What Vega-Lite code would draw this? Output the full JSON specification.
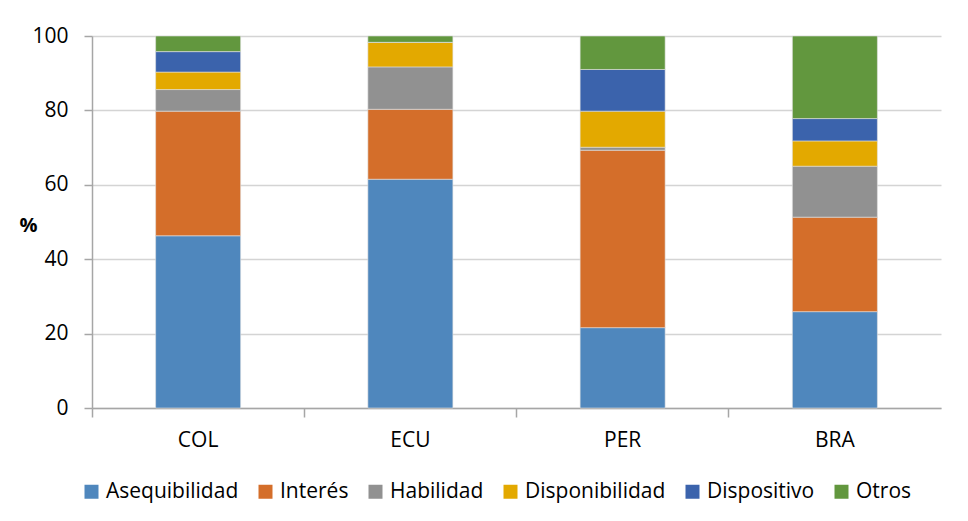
{
  "$schema": "https://vega.github.io/schema/vega-lite/v6.json",
  "width": 849,
  "height": 372,
  "autosize": {"type": "none"},
  "padding": {"left": 92, "top": 36, "right": 27, "bottom": 113},
  "background": "white",
  "config": {"view": {"stroke": null}, "font": "Open Sans"},
  "data": {
    "values": [
      {"pais": "COL", "factor": "Asequibilidad", "k": 1, "valor": 46.3},
      {"pais": "COL", "factor": "Interés", "k": 2, "valor": 33.5},
      {"pais": "COL", "factor": "Habilidad", "k": 3, "valor": 5.8},
      {"pais": "COL", "factor": "Disponibilidad", "k": 4, "valor": 4.7},
      {"pais": "COL", "factor": "Dispositivo", "k": 5, "valor": 5.5},
      {"pais": "COL", "factor": "Otros", "k": 6, "valor": 4.2},
      {"pais": "ECU", "factor": "Asequibilidad", "k": 1, "valor": 61.5},
      {"pais": "ECU", "factor": "Interés", "k": 2, "valor": 18.8},
      {"pais": "ECU", "factor": "Habilidad", "k": 3, "valor": 11.4},
      {"pais": "ECU", "factor": "Disponibilidad", "k": 4, "valor": 6.6},
      {"pais": "ECU", "factor": "Dispositivo", "k": 5, "valor": 0},
      {"pais": "ECU", "factor": "Otros", "k": 6, "valor": 1.7},
      {"pais": "PER", "factor": "Asequibilidad", "k": 1, "valor": 21.6},
      {"pais": "PER", "factor": "Interés", "k": 2, "valor": 47.7},
      {"pais": "PER", "factor": "Habilidad", "k": 3, "valor": 0.8},
      {"pais": "PER", "factor": "Disponibilidad", "k": 4, "valor": 9.7},
      {"pais": "PER", "factor": "Dispositivo", "k": 5, "valor": 11.2},
      {"pais": "PER", "factor": "Otros", "k": 6, "valor": 9.0},
      {"pais": "BRA", "factor": "Asequibilidad", "k": 1, "valor": 25.9},
      {"pais": "BRA", "factor": "Interés", "k": 2, "valor": 25.4},
      {"pais": "BRA", "factor": "Habilidad", "k": 3, "valor": 13.7},
      {"pais": "BRA", "factor": "Disponibilidad", "k": 4, "valor": 6.8},
      {"pais": "BRA", "factor": "Dispositivo", "k": 5, "valor": 6.0},
      {"pais": "BRA", "factor": "Otros", "k": 6, "valor": 22.2}
    ]
  },
  "mark": {"type": "bar", "size": 85, "stroke": "#e0e0e0", "strokeWidth": 0.6},
  "encoding": {
    "x": {
      "field": "pais",
      "type": "nominal",
      "sort": ["COL", "ECU", "PER", "BRA"],
      "scale": {"paddingInner": 0, "paddingOuter": 0},
      "axis": {
        "title": null,
        "labelAngle": 0,
        "labelFontSize": 21,
        "labelColor": "#000000",
        "labelPadding": 12,
        "bandPosition": 0,
        "tickSize": 9,
        "tickColor": "#a6a6a6",
        "tickWidth": 1.5,
        "domainColor": "#a6a6a6",
        "domainWidth": 1.5,
        "grid": false
      }
    },
    "y": {
      "field": "valor",
      "type": "quantitative",
      "stack": "zero",
      "scale": {"domain": [0, 100], "nice": false},
      "axis": {
        "title": "%",
        "titleAngle": 0,
        "titleFontSize": 20,
        "titleFontWeight": "bold",
        "titleColor": "#000000",
        "titleX": -64,
        "titleY": 189,
        "titleAlign": "center",
        "titleBaseline": "middle",
        "values": [0, 20, 40, 60, 80, 100],
        "labelFontSize": 21,
        "labelColor": "#000000",
        "labelPadding": 16,
        "tickSize": 8,
        "tickColor": "#a6a6a6",
        "tickWidth": 1.5,
        "domainColor": "#a6a6a6",
        "domainWidth": 1.5,
        "gridColor": "#d4d4d4",
        "gridWidth": 1.5
      }
    },
    "color": {
      "field": "factor",
      "type": "nominal",
      "sort": ["Asequibilidad", "Interés", "Habilidad", "Disponibilidad", "Dispositivo", "Otros"],
      "scale": {
        "domain": ["Asequibilidad", "Interés", "Habilidad", "Disponibilidad", "Dispositivo", "Otros"],
        "range": ["#4f87bd", "#d46e2a", "#919191", "#e3a900", "#3b63ac", "#62973e"]
      },
      "legend": {
        "title": null,
        "orient": "none",
        "direction": "horizontal",
        "legendX": -11,
        "legendY": 445,
        "symbolType": "square",
        "symbolSize": 196,
        "symbolStrokeWidth": 0,
        "labelFontSize": 21,
        "labelColor": "#000000",
        "columnPadding": 16,
        "labelOffset": 4
      }
    },
    "order": {"field": "k", "type": "quantitative"}
  }
}
